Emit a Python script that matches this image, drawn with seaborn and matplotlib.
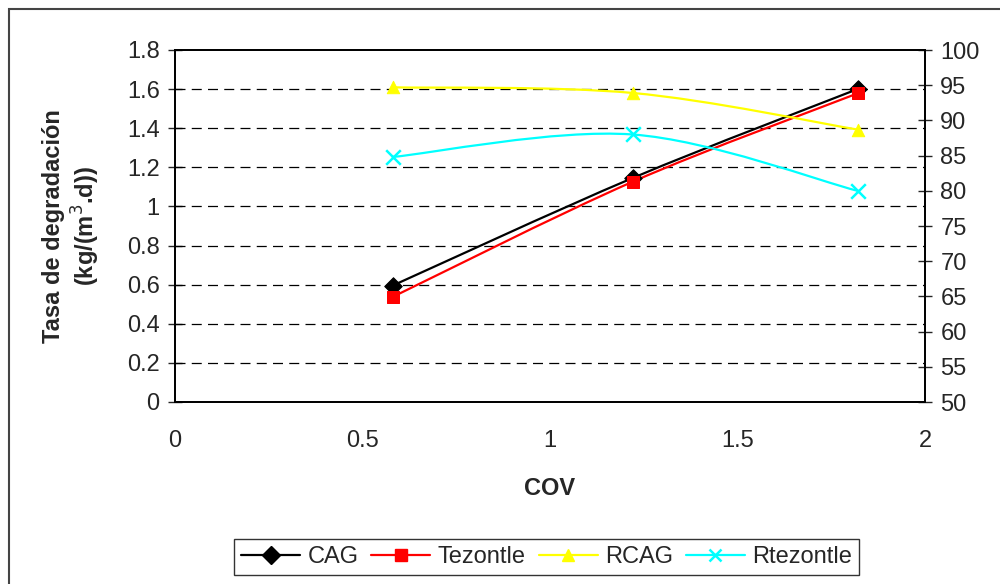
import numpy as np
import pandas as pd
import matplotlib
matplotlib.use("Agg")
import matplotlib.pyplot as plt
import seaborn as sns
from matplotlib.path import Path
from matplotlib.patches import PathPatch, Rectangle
from matplotlib.lines import Line2D

cov = [0.58, 1.22, 1.82]
cag = [0.595, 1.145, 1.60]
tezontle = [0.537, 1.126, 1.578]
rcag = [94.7, 93.9, 88.7]
rtezontle = [84.8, 88.0, 80.0]

sns.set_style("white")
plt.rcParams['font.family'] = ['Liberation Sans', 'DejaVu Sans']


def smooth_path(xs, ys):
    # excel-like smoothed line: catmull-rom as cubic bezier
    pts = np.column_stack([xs, ys]).astype(float)
    ext = np.vstack([pts[0], pts, pts[-1]])
    verts = [pts[0]]
    codes = [Path.MOVETO]
    for i in range(1, len(ext) - 2):
        p0, p1, p2, p3 = ext[i - 1], ext[i], ext[i + 1], ext[i + 2]
        verts += [p1 + (p2 - p0) / 6, p2 - (p3 - p1) / 6, p2]
        codes += [Path.CURVE4] * 3
    return Path(verts, codes)


fig = plt.figure(figsize=(10, 5.84), dpi=100)
ax = fig.add_axes([0.175, 1 - 402 / 584, 0.75, 352 / 584])
ax2 = ax.twinx()

series = [
    (ax, cag, "black", "D", "CAG"),
    (ax, tezontle, "red", "s", "Tezontle"),
    (ax2, rcag, "yellow", "^", "RCAG"),
    (ax2, rtezontle, "cyan", "x", "Rtezontle"),
]

handles = []
for a, vals, col, mk, name in series:
    a.add_patch(PathPatch(smooth_path(cov, vals), facecolor="none",
                          edgecolor=col, lw=1.6, zorder=3))
    if mk == "x":
        sns.scatterplot(x=cov, y=vals, marker="x", color=col, s=110,
                        linewidth=1.8, ax=a, legend=False, zorder=4)
    else:
        sns.scatterplot(x=cov, y=vals, marker=mk, color=col, s=80,
                        edgecolor=col, ax=a, legend=False, zorder=4)
    handles.append(Line2D([], [], color=col, marker=mk, lw=1.6,
                          markersize=9, markeredgewidth=1.8 if mk == "x" else 1))

ax.set_xlim(0, 2)
ax.set_ylim(0, 1.8)
ax2.set_ylim(50, 100)
ax.set_xticks([0, 0.5, 1, 1.5, 2])
ax.set_xticklabels(["0", "0.5", "1", "1.5", "2"])
ax.set_yticks(np.arange(0, 1.81, 0.2))
ax.set_yticklabels(["0", "0.2", "0.4", "0.6", "0.8", "1", "1.2", "1.4", "1.6", "1.8"])
ax2.set_yticks(np.arange(50, 101, 5))

for y in np.arange(0.2, 1.7, 0.2):
    ax.axhline(y, color="black", lw=0.9, ls=(0, (8, 5)), zorder=1)

for a in (ax, ax2):
    for s in a.spines.values():
        s.set_color("black")
        s.set_linewidth(1.3)

fs = 17
ax.tick_params(axis="y", direction="inout", length=10, width=1, labelsize=fs, pad=6)
ax.tick_params(axis="x", direction="out", length=6, width=1, labelsize=fs, pad=14)
ax2.tick_params(axis="y", direction="inout", length=10, width=1, labelsize=fs, pad=6)

ax.set_xlabel("COV", fontsize=fs, fontweight="bold", labelpad=18)
ax.set_ylabel("Tasa de degradación\n(kg/(m$^3$.d))", fontsize=fs,
              fontweight="bold", labelpad=18, linespacing=1.2)

leg = fig.legend(handles=handles, labels=[s[4] for s in series], ncol=4,
                 loc="center", bbox_to_anchor=(0.5465, 0.046), fontsize=fs,
                 frameon=True, fancybox=False, edgecolor="black",
                 handlelength=2.5, handletextpad=0.3, columnspacing=0.55,
                 borderpad=0.3)
leg.get_frame().set_linewidth(1.0)

fig.patches.append(Rectangle((9 / 1000, -0.1), 1.2, 1 - 9 / 584 + 0.1,
                             transform=fig.transFigure, fill=False,
                             edgecolor="#444444", lw=1.5))

fig.savefig("out.png", dpi=100)
